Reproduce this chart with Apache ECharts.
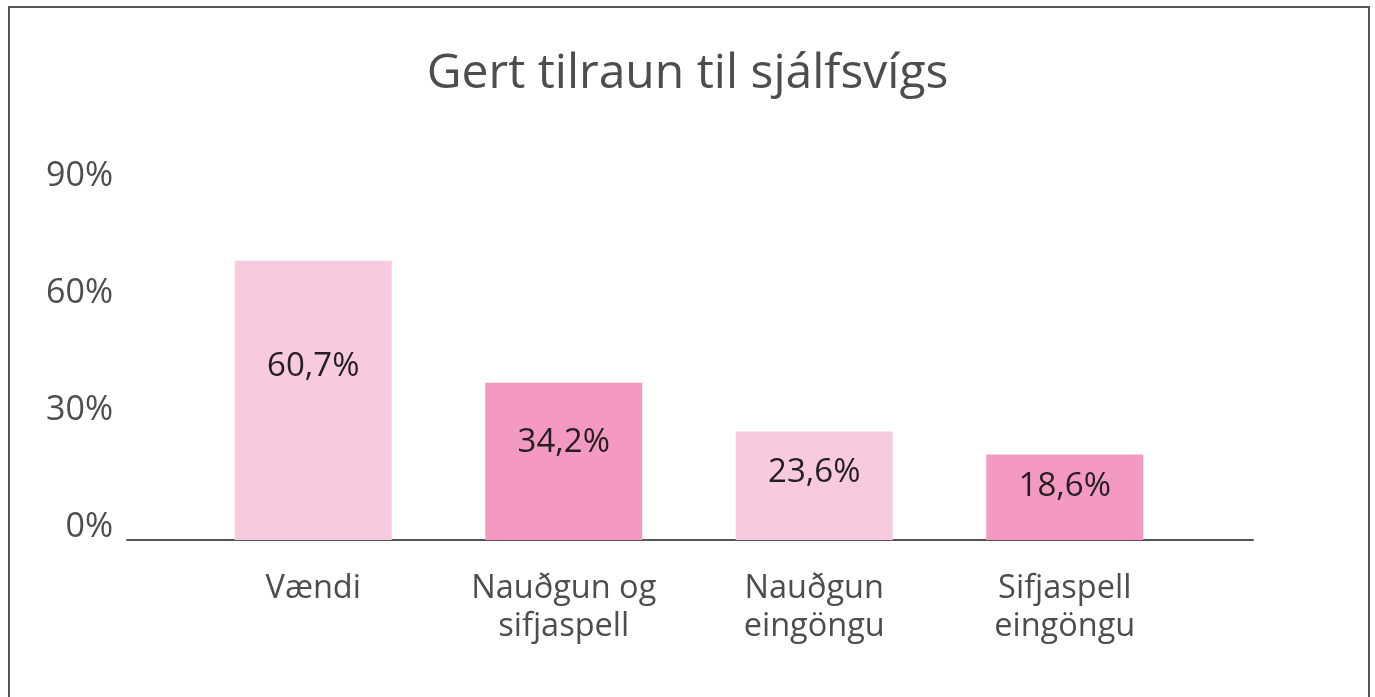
<!DOCTYPE html>
<html>
<head>
<meta charset="utf-8">
<script src="https://cdn.jsdelivr.net/npm/echarts@6/dist/echarts.min.js"></script>
<style>
  html, body { margin: 0; padding: 0; background: #fff; overflow: hidden; }
  #frame {
    position: absolute; left: 8px; top: 6px;
    width: 1358px; height: 760px;
    border: 2px solid #555;
  }
  #main { position: absolute; left: 0; top: 0; width: 1375px; height: 697px; }
</style>
</head>
<body>
<div id="frame"></div>
<div id="main"></div>
<script>
const titleText = 'Gert tilraun til sjálfsvígs'
const categories = ['Vændi', 'Nauðgun og\nsifjaspell', 'Nauðgun\neingöngu', 'Sifjaspell\neingöngu']
const values = [60.7, 34.2, 23.6, 18.6]
const barColors = ['#f7cadf', '#f399c2', '#f7cadf', '#f399c2']
const tickMax = 90
const tickStep = 30

const textColor = '#4d4d4d'
const font = '"Open Sans", "Noto Sans", sans-serif'

const chart = echarts.init(document.getElementById('main'))

const option = {
  animation: false,
  textStyle: { fontFamily: font },
  title: {
    text: titleText,
    left: 'center',
    top: 45,
    textStyle: { fontFamily: font, fontSize: 48, fontWeight: 'normal', color: textColor },
  },
  grid: [
    // baseline + percent labels
    { left: 127, right: 122, top: 189, bottom: 157 },
    // bars
    { left: 188, right: 185, top: 80, bottom: 157 },
  ],
  xAxis: [
    {
      gridIndex: 0,
      type: 'category',
      data: [''],
      axisLine: { lineStyle: { color: '#555', width: 2 } },
      axisTick: { show: false },
      axisLabel: { show: false },
    },
    {
      gridIndex: 1,
      type: 'category',
      data: categories,
      axisLine: { show: false },
      axisTick: { show: false },
      axisLabel: {
        fontFamily: font,
        fontSize: 32.5,
        color: textColor,
        lineHeight: 38,
        margin: 30,
      },
    },
  ],
  yAxis: [
    {
      gridIndex: 0,
      type: 'value',
      min: 0,
      max: tickMax,
      interval: tickStep,
      axisLine: { show: false },
      axisTick: { show: false },
      splitLine: { show: false },
      axisLabel: {
        formatter: '{value}%',
        fontFamily: font,
        fontSize: 34,
        color: textColor,
        margin: 14,
        verticalAlign: 'bottom',
        lineHeight: 26,
      },
    },
    {
      gridIndex: 1,
      type: 'value',
      min: 0,
      max: 100,
      show: false,
    },
  ],
  series: [
    {
      type: 'bar',
      xAxisIndex: 1,
      yAxisIndex: 1,
      barWidth: 157,
      data: values.map((v, i) => ({ value: v, itemStyle: { color: barColors[i] } })),
      label: {
        show: true,
        position: ['50%', '38%'],
        align: 'center',
        verticalAlign: 'middle',
        fontFamily: font,
        fontSize: 33,
        color: '#231f20',
        formatter: (p) => p.value.toFixed(1).replace('.', ',') + '%',
      },
    },
  ],
}

chart.setOption(option)
</script>
</body>
</html>
